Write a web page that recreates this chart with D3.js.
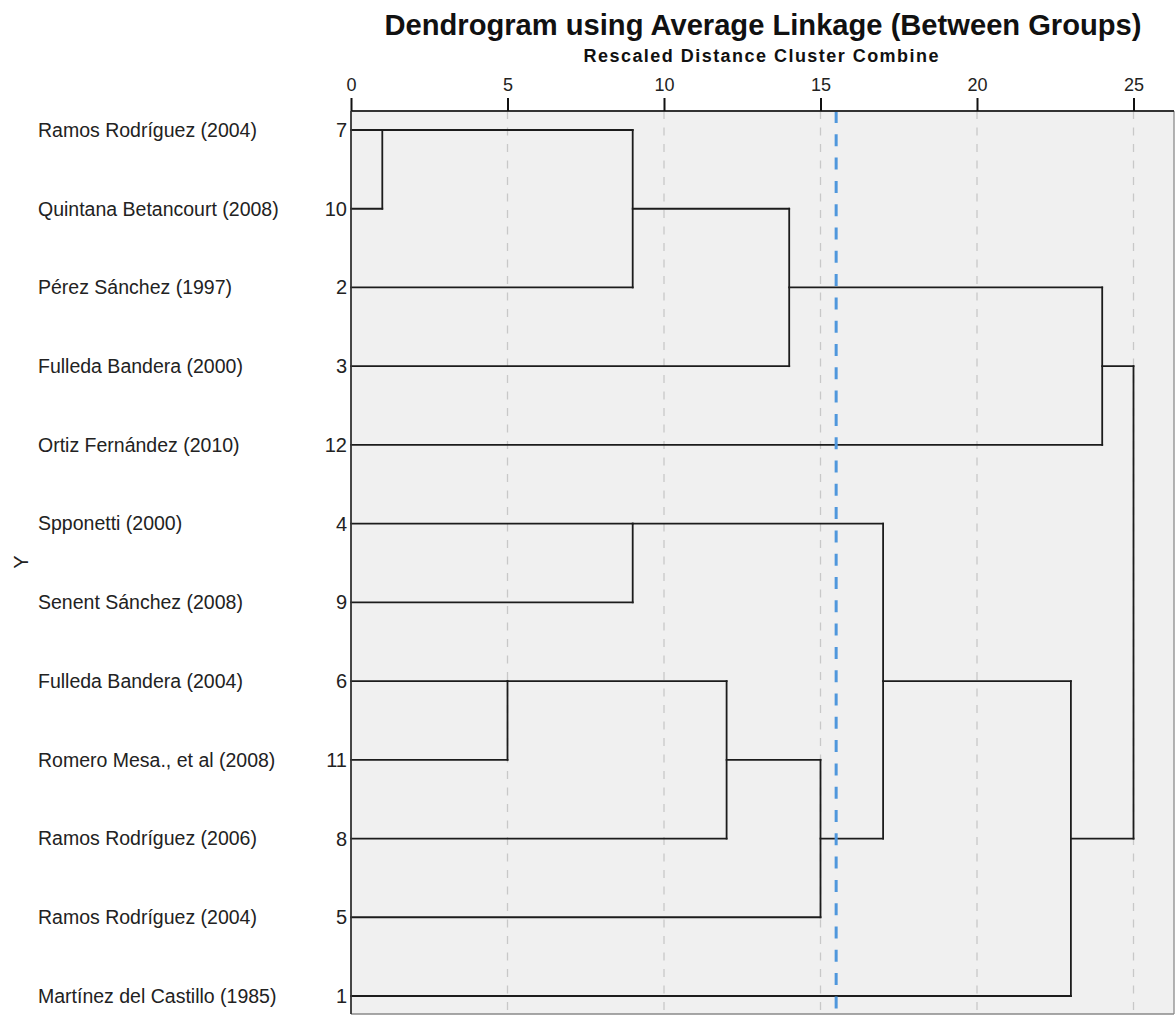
<!DOCTYPE html>
<html><head><meta charset="utf-8">
<script src="https://cdn.jsdelivr.net/npm/d3@7"></script>
<style>body{margin:0;background:#fff;}svg{display:block;}</style>
</head><body>
<script>
// ---- data ----
const leafLabels = [
  "Ramos Rodríguez (2004)", "Quintana Betancourt (2008)", "Pérez Sánchez (1997)",
  "Fulleda Bandera (2000)", "Ortiz Fernández (2010)", "Spponetti (2000)",
  "Senent Sánchez (2008)", "Fulleda Bandera (2004)", "Romero Mesa., et al (2008)",
  "Ramos Rodríguez (2006)", "Ramos Rodríguez (2004)", "Martínez del Castillo (1985)"
];
const leafCases = [7, 10, 2, 3, 12, 4, 9, 6, 11, 8, 5, 1];
// merges: ids 0..11 are leaves, 12+ are earlier merges in order
const mergeLeft  = [0, 12, 13, 14, 5, 7, 17, 18, 16, 20, 15];
const mergeRight = [1, 2, 3, 4, 6, 8, 9, 10, 19, 11, 21];
const mergeDistance = [1, 9, 14, 24, 9, 5, 12, 15, 17, 23, 25];
const axisTicks = [0, 5, 10, 15, 20, 25];
const cutDistance = 15.5;
const titleText = "Dendrogram using Average Linkage (Between Groups)";
const subtitleText = "Rescaled Distance Cluster Combine";
const yAxisTitle = "Y";

// ---- layout ----
const W = 1176, H = 1021;
const frame = {left: 351, top: 111, right: 1174, bottom: 1014};
const svg = d3.select("body").append("svg").attr("width", W).attr("height", H)
  .style("font-family", "Arial, 'Liberation Sans', sans-serif");

const x = d3.scaleLinear().domain([0, 25]).range([351, 1133.5]);
const y = d3.scaleLinear().domain([0, leafCases.length - 1]).range([130, 996]);

// plot background
svg.append("rect").attr("x", frame.left).attr("y", frame.top)
  .attr("width", frame.right - frame.left).attr("height", frame.bottom - frame.top)
  .attr("fill", "#f0f0f0");

// grid lines
svg.append("g").selectAll("line").data(axisTicks.filter(d => d > 0)).join("line")
  .attr("x1", d => x(d)).attr("x2", d => x(d))
  .attr("y1", frame.top).attr("y2", frame.bottom)
  .attr("stroke", "#c8c8c8").attr("stroke-width", 1.3).attr("stroke-dasharray", "8,8.5");

// frame borders
svg.append("line").attr("x1", frame.right).attr("x2", frame.right).attr("y1", frame.top).attr("y2", frame.bottom)
  .attr("stroke", "#9a9a9a").attr("stroke-width", 1.5);
svg.append("line").attr("x1", frame.left).attr("x2", frame.right).attr("y1", frame.bottom).attr("y2", frame.bottom)
  .attr("stroke", "#8a8a8a").attr("stroke-width", 1.5);

// compute node positions
const nodeRow = leafCases.map((d, i) => i);
const nodeDist = leafCases.map(() => 0);
mergeLeft.forEach((a, i) => {
  const b = mergeRight[i];
  nodeRow.push(Math.floor((nodeRow[a] + nodeRow[b]) / 2));
  nodeDist.push(mergeDistance[i]);
});

const segs = [];
mergeLeft.forEach((a, i) => {
  const b = mergeRight[i], d = mergeDistance[i];
  segs.push([x(d), y(nodeRow[a]), x(d), y(nodeRow[b])]);
  segs.push([x(nodeDist[a]), y(nodeRow[a]), x(d), y(nodeRow[a])]);
  segs.push([x(nodeDist[b]), y(nodeRow[b]), x(d), y(nodeRow[b])]);
});
svg.append("g").selectAll("line").data(segs).join("line")
  .attr("x1", d => d[0]).attr("y1", d => d[1]).attr("x2", d => d[2]).attr("y2", d => d[3])
  .attr("stroke", "#1c1c1c").attr("stroke-width", 1.8).attr("stroke-linecap", "square");

// cut line
svg.append("line").attr("x1", x(cutDistance)).attr("x2", x(cutDistance))
  .attr("y1", frame.top).attr("y2", frame.bottom)
  .attr("stroke", "#4f97dc").attr("stroke-width", 3).attr("stroke-dasharray", "12,11.3");

// top & left frame lines
svg.append("line").attr("x1", frame.left).attr("x2", frame.right).attr("y1", frame.top).attr("y2", frame.top)
  .attr("stroke", "#333").attr("stroke-width", 1.8);
svg.append("line").attr("x1", frame.left).attr("x2", frame.left).attr("y1", frame.top).attr("y2", frame.bottom)
  .attr("stroke", "#333").attr("stroke-width", 1.8);

// top axis
const ax = svg.append("g").attr("transform", `translate(0,${frame.top})`)
  .call(d3.axisTop(x).tickValues(axisTicks).tickSize(13).tickPadding(7));
ax.select(".domain").remove();
ax.selectAll(".tick line").attr("stroke", "#111").attr("stroke-width", 2);
ax.selectAll(".tick text").attr("font-size", 18).attr("fill", "#222")
  .attr("font-family", "Arial, 'Liberation Sans', sans-serif");

// leaf labels & case numbers
svg.append("g").selectAll("text").data(leafLabels).join("text")
  .attr("x", 38).attr("y", (d, i) => y(i)).attr("dy", "0.35em")
  .attr("font-size", 19.5).attr("fill", "#222").text(d => d);
svg.append("g").selectAll("text").data(leafCases).join("text")
  .attr("x", 347).attr("y", (d, i) => y(i)).attr("dy", "0.35em")
  .attr("text-anchor", "end").attr("font-size", 20).attr("fill", "#222").text(d => d);

// titles
svg.append("text").attr("x", 763).attr("y", 35).attr("text-anchor", "middle")
  .attr("font-size", 29).attr("font-weight", "bold").attr("fill", "#111")
  .attr("textLength", 757).attr("lengthAdjust", "spacingAndGlyphs").text(titleText);
svg.append("text").attr("x", 761).attr("y", 62).attr("text-anchor", "middle")
  .attr("font-size", 18).attr("font-weight", "bold").attr("fill", "#111")
  .attr("textLength", 355).attr("lengthAdjust", "spacing").text(subtitleText);
svg.append("text").attr("transform", "translate(28,562) rotate(-90)")
  .attr("text-anchor", "middle").attr("font-size", 20).attr("fill", "#222").text(yAxisTitle);
</script>
</body></html>
